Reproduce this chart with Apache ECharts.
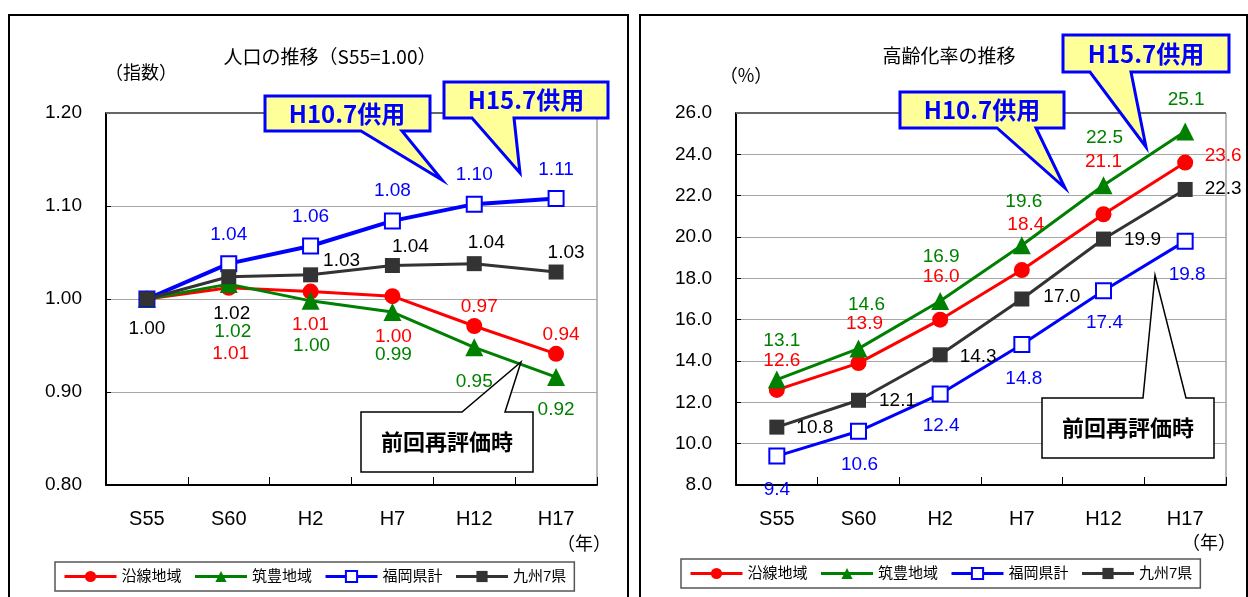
<!DOCTYPE html>
<html>
<head>
<meta charset="utf-8">
<script src="https://cdn.jsdelivr.net/npm/echarts@6/dist/echarts.min.js"></script>
<style>
  html, body { margin: 0; padding: 0; background: #fff; }
  #chart { width: 1248px; height: 597px; }
</style>
</head>
<body>
<div id="chart"></div>
<script>
const years = ['S55', 'S60', 'H2', 'H7', 'H12', 'H17'];
const seriesNames = ['沿線地域', '筑豊地域', '福岡県計', '九州7県'];

// 人口の推移 (S55=1.00)
const popYensen = [1.00, 1.012, 1.008, 1.003, 0.971, 0.941];
const popChikuho = [1.00, 1.016, 0.998, 0.986, 0.948, 0.916];
const popFukuoka = [1.00, 1.038, 1.057, 1.084, 1.102, 1.108];
const popKyushu = [1.00, 1.024, 1.026, 1.036, 1.038, 1.029];
const popTicks = [0.80, 0.90, 1.00, 1.10, 1.20];

// 高齢化率の推移 (%)
const agedYensen = [12.6, 13.9, 16.0, 18.4, 21.1, 23.6];
const agedChikuho = [13.1, 14.6, 16.9, 19.6, 22.5, 25.1];
const agedFukuoka = [9.4, 10.6, 12.4, 14.8, 17.4, 19.8];
const agedKyushu = [10.8, 12.1, 14.3, 17.0, 19.9, 22.3];
const agedTicks = [8, 10, 12, 14, 16, 18, 20, 22, 24, 26];

// label offsets from each point (null = no label)
const popLabelOffsets = [
  [null, [2, 66], [0, 33], [1, 41], [5, -19], [5, -19]],
  [null, [4, 48], [1, 45], [1, 43], [0, 34], [0, 33]],
  [null, [0, -29], [0, -29], [0, -30], [0, -29], [0, -29]],
  [[0, 30], [3, 37], [31, -14], [18, -19], [12, -21], [10, -19]]
];
const agedLabelOffsets = [
  [[5, -29], [6, -39], [1, -43], [4, -45], [0, -53], [38, -7]],
  [[5, -39], [8, -44], [1, -44], [2, -44], [1, -48], [1, -32]],
  [[0, 34], [1, 33], [1, 32], [2, 34], [1, 32], [2, 34]],
  [[38, 1], [39, 0], [38, 2], [40, -2], [39, 1], [38, -1]]
];

const colors = ['#ff0000', '#008000', '#0000ff', '#333333'];
const labelColors = ['#ff0000', '#008000', '#0000ff', '#000000'];
const FONT = '"Liberation Sans", "Noto Sans CJK JP", sans-serif';

const chart = echarts.init(document.getElementById('chart'));

function makeSeries(idx, values, offsets, axisIdx, digits) {
  const symbols = ['circle', 'triangle', 'rect', 'rect'];
  const sizes = [16, 18, 15, 15];
  const data = values.map((v, i) => {
    const off = offsets[i];
    return {
      value: v,
      label: off ? { show: true, position: 'inside', offset: off } : { show: false }
    };
  });
  return {
    name: seriesNames[idx],
    type: 'line',
    xAxisIndex: axisIdx,
    yAxisIndex: axisIdx,
    data: data,
    symbol: symbols[idx],
    symbolSize: sizes[idx],
    color: colors[idx],
    lineStyle: { color: colors[idx], width: idx === 2 && axisIdx === 0 ? 4 : 3 },
    itemStyle: idx === 2
      ? { color: '#ffffff', borderColor: colors[idx], borderWidth: 2 }
      : { color: colors[idx] },
    label: {
      color: labelColors[idx],
      fontSize: 19,
      fontFamily: FONT,
      formatter: p => p.value.toFixed(digits)
    },
    emphasis: { disabled: true },
    animation: false,
    z: 2 + idx
  };
}

function xAxisFor(gridIndex) {
  return {
    type: 'category',
    gridIndex: gridIndex,
    data: years,
    boundaryGap: true,
    axisLine: { lineStyle: { color: '#000', width: 2 } },
    axisTick: { show: true, inside: true, length: 8, lineStyle: { color: '#000' } },
    axisLabel: { color: '#000', fontSize: 20, fontFamily: FONT, margin: 24 }
  };
}

function yAxisFor(gridIndex, ticks, digits) {
  return {
    type: 'value',
    gridIndex: gridIndex,
    min: ticks[0],
    max: ticks[ticks.length - 1],
    interval: ticks[1] - ticks[0],
    axisLine: { show: true, lineStyle: { color: '#000', width: 2 } },
    axisTick: { show: true, inside: true, length: 5, lineStyle: { color: '#000' } },
    axisLabel: {
      color: '#000', fontSize: 19, fontFamily: FONT, margin: 24,
      formatter: v => v.toFixed(digits)
    },
    splitLine: { lineStyle: { color: '#a6a6a6', width: 1 } }
  };
}

function legendFor(left, top) {
  return {
    data: seriesNames,
    left: left,
    top: top,
    orient: 'horizontal',
    itemWidth: 52,
    itemHeight: 14,
    itemGap: 12,
    padding: [7, 8],
    borderColor: '#555',
    borderWidth: 1.5,
    lineStyle: { width: 3 },
    textStyle: { color: '#000', fontSize: 15, fontFamily: FONT },
    selectedMode: false
  };
}

function callout(points, fill, stroke, lineWidth) {
  return {
    type: 'polygon',
    shape: { points: points },
    style: { fill: fill, stroke: stroke, lineWidth: lineWidth },
    z: 100
  };
}

function boxText(x, y, text, color, size) {
  return {
    type: 'text',
    x: x, y: y,
    style: {
      text: text, fill: color, font: 'bold ' + size + 'px "Noto Sans CJK JP", sans-serif',
      textAlign: 'center', textVerticalAlign: 'middle'
    },
    z: 101
  };
}

function plainText(x, y, text, size, align) {
  return {
    type: 'text',
    x: x, y: y,
    style: {
      text: text, fill: '#000', font: size + 'px "Noto Sans CJK JP", sans-serif',
      textAlign: align || 'center', textVerticalAlign: 'middle'
    },
    z: 100
  };
}

const option = {
  backgroundColor: '#ffffff',
  textStyle: { fontFamily: FONT },
  animation: false,
  grid: [
    { left: 106, top: 113, width: 491, height: 372, show: true, borderColor: '#777', borderWidth: 1 },
    { left: 736, top: 113, width: 490, height: 372, show: true, borderColor: '#777', borderWidth: 1 }
  ],
  xAxis: [xAxisFor(0), xAxisFor(1)],
  yAxis: [yAxisFor(0, popTicks, 2), yAxisFor(1, agedTicks, 1)],
  legend: [legendFor(55, 562), legendFor(681, 559)],
  series: [
    makeSeries(0, popYensen, popLabelOffsets[0], 0, 2),
    makeSeries(1, popChikuho, popLabelOffsets[1], 0, 2),
    makeSeries(2, popFukuoka, popLabelOffsets[2], 0, 2),
    makeSeries(3, popKyushu, popLabelOffsets[3], 0, 2),
    makeSeries(0, agedYensen, agedLabelOffsets[0], 1, 1),
    makeSeries(1, agedChikuho, agedLabelOffsets[1], 1, 1),
    makeSeries(2, agedFukuoka, agedLabelOffsets[2], 1, 1),
    makeSeries(3, agedKyushu, agedLabelOffsets[3], 1, 1)
  ],
  graphic: [
    // panel frames
    { type: 'rect', shape: { x: 9, y: 15, width: 619, height: 600 }, style: { fill: 'none', stroke: '#000', lineWidth: 2 }, z: 0 },
    { type: 'rect', shape: { x: 640, y: 15, width: 607, height: 600 }, style: { fill: 'none', stroke: '#000', lineWidth: 2 }, z: 0 },
    // darker top edge of the plot areas
    { type: 'line', shape: { x1: 106, y1: 113, x2: 597, y2: 113 }, style: { stroke: '#666', lineWidth: 2 }, z: 50 },
    { type: 'line', shape: { x1: 736, y1: 113, x2: 1226, y2: 113 }, style: { stroke: '#666', lineWidth: 2 }, z: 50 },

    // titles and units
    plainText(330, 57, '人口の推移（S55=1.00）', 19),
    plainText(141, 72, '（指数）', 18),
    plainText(584, 543, '（年）', 18),
    plainText(949, 56, '高齢化率の推移', 19),
    plainText(746, 75, '（%）', 18),
    plainText(1209, 542, '（年）', 18),

    // left panel callouts
    callout([[265, 96], [430, 96], [430, 131], [402, 131], [442, 180], [361, 131], [265, 131]], '#ffff99', '#0000ff', 3),
    boxText(347, 114, 'H10.7供用', '#0000ff', 24),
    callout([[444, 82], [608, 82], [608, 118], [514, 118], [520, 173], [472, 118], [444, 118]], '#ffff99', '#0000ff', 3),
    boxText(526, 100, 'H15.7供用', '#0000ff', 24),
    callout([[361, 412], [462, 412], [521, 362], [505, 412], [533, 412], [533, 472], [361, 472]], '#ffffff', '#000000', 1.5),
    boxText(447, 442, '前回再評価時', '#000000', 22),

    // right panel callouts
    callout([[1063, 35], [1229, 35], [1229, 72], [1131, 72], [1146, 147], [1090, 72], [1063, 72]], '#ffff99', '#0000ff', 3),
    boxText(1146, 54, 'H15.7供用', '#0000ff', 24),
    callout([[900, 92], [1064, 92], [1064, 128], [1036, 128], [1065, 188], [997, 128], [900, 128]], '#ffff99', '#0000ff', 3),
    boxText(982, 110, 'H10.7供用', '#0000ff', 24),
    callout([[1042, 398], [1143, 398], [1155, 275], [1186, 398], [1214, 398], [1214, 458], [1042, 458]], '#ffffff', '#000000', 1.5),
    boxText(1128, 428, '前回再評価時', '#000000', 22)
  ]
};

chart.setOption(option);
</script>
</body>
</html>
